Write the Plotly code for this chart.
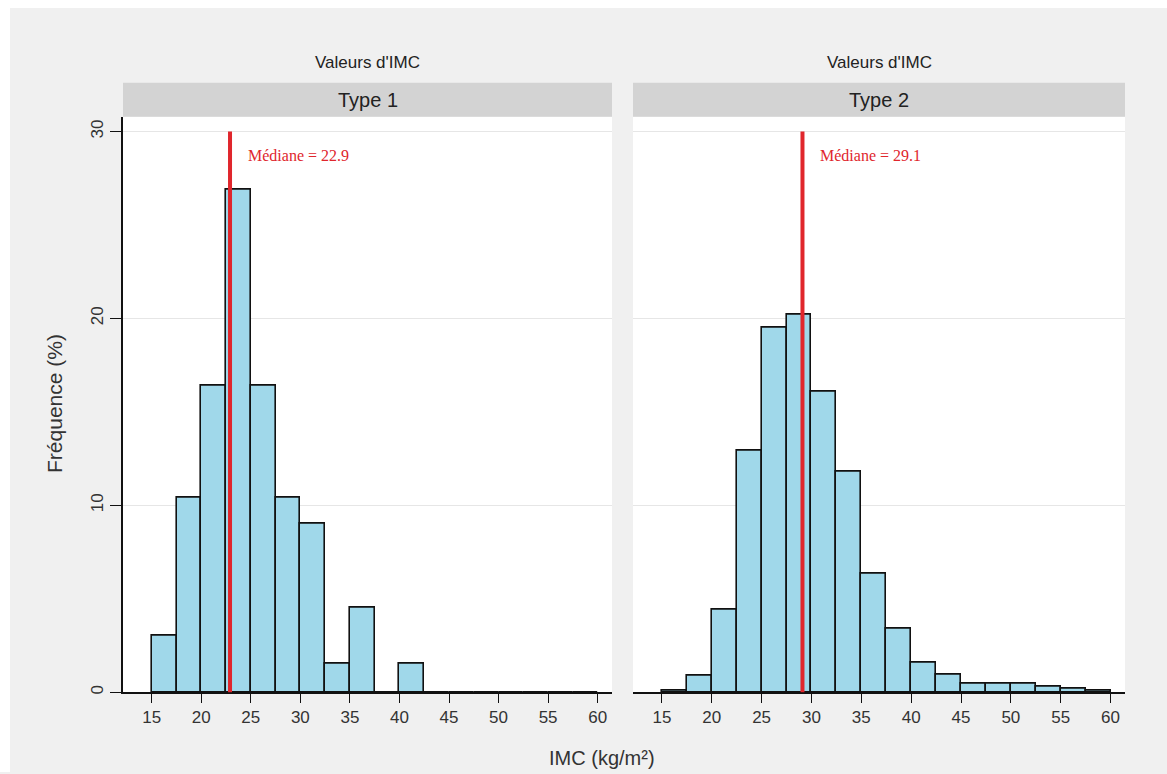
import plotly.graph_objects as go

# ---- data ----
bin_width = 2.5
bin_starts = [15 + 2.5 * i for i in range(18)]  # 15, 17.5, ..., 57.5
type1_freq = [3.0, 10.4, 16.4, 26.9, 16.4, 10.4, 9.0, 1.5, 4.5, 0.0, 1.5,
              0, 0, 0, 0, 0, 0, 0]
type2_freq = [0.1, 0.87, 4.4, 12.9, 19.5, 20.2, 16.1, 11.8, 6.35, 3.4, 1.6,
              0.96, 0.45, 0.45, 0.45, 0.28, 0.18, 0.08]
medians = [22.9, 29.1]
panel_names = ["Type 1", "Type 2"]
super_title = "Valeurs d'IMC"
x_ticks = [15, 20, 25, 30, 35, 40, 45, 50, 55, 60]
y_ticks = [0, 10, 20, 30]

W, H = 1167, 774
def PX(p): return p / W
def PY(p): return 1 - p / H

bar_color = "#a0d8ea"
red = "#e0262c"
font_sans = "Liberation Sans, Arial, sans-serif"
font_serif = "Liberation Serif, Times New Roman, serif"

x_domains = [[PX(123), PX(612)], [PX(633), PX(1125)]]
y_domain = [PY(694), PY(117)]
x_range = [12.1, 61.45]
y_range = [0, 30.79]

fig = go.Figure()

for i, freq in enumerate([type1_freq, type2_freq]):
    xa = "x" if i == 0 else "x2"
    ya = "y" if i == 0 else "y2"
    fig.add_trace(go.Bar(
        x=bin_starts, y=freq, width=[bin_width] * len(bin_starts), offset=0,
        marker=dict(color=bar_color, line=dict(color="#111111", width=1.6)),
        xaxis=xa, yaxis=ya, showlegend=False, hoverinfo="x+y",
    ))

axis_common = dict(range=x_range, tickvals=x_ticks, ticks="outside", ticklen=9,
                   tickwidth=1.3, tickcolor="#111", showline=True, linecolor="#111",
                   linewidth=1.5, showgrid=False, zeroline=False,
                   tickfont=dict(family=font_sans, size=17, color="#333"))
fig.update_layout(
    xaxis=dict(domain=x_domains[0], anchor="y", **axis_common),
    xaxis2=dict(domain=x_domains[1], anchor="y2", **axis_common),
    yaxis=dict(domain=y_domain, range=y_range, tickvals=y_ticks, ticks="outside",
               ticklen=11, tickwidth=1.3, tickcolor="#111", showline=True,
               linecolor="#111", linewidth=1.5, showgrid=True, gridcolor="#e6e6e6",
               gridwidth=1, zeroline=False, tickangle=-90, anchor="x",
               tickfont=dict(family=font_sans, size=17, color="#333")),
    yaxis2=dict(domain=y_domain, range=y_range, tickvals=y_ticks, ticks="",
                showticklabels=False, showline=False, showgrid=True,
                gridcolor="#e6e6e6", gridwidth=1, zeroline=False, anchor="x2"),
    plot_bgcolor="white",
    paper_bgcolor="#f0f0f0",
    width=W, height=H,
    margin=dict(l=0, r=0, t=0, b=0),
    bargap=0,
)

shapes = [
    # white outer border (top and left)
    dict(type="rect", xref="paper", yref="paper", x0=0, x1=1, y0=PY(8), y1=1,
         fillcolor="white", line=dict(width=0), layer="below"),
    dict(type="rect", xref="paper", yref="paper", x0=0, x1=PX(10), y0=0, y1=1,
         fillcolor="white", line=dict(width=0), layer="below"),
]
annotations = []
for i in range(2):
    d = x_domains[i]
    xa = "x" if i == 0 else "x2"
    ya = "y" if i == 0 else "y2"
    # strip
    shapes.append(dict(type="rect", xref="paper", yref="paper", x0=d[0], x1=d[1],
                       y0=PY(117), y1=PY(83), fillcolor="#d3d3d3", line=dict(width=0)))
    annotations.append(dict(text=panel_names[i], xref="paper", yref="paper",
                            x=(d[0] + d[1]) / 2, y=PY(100), showarrow=False,
                            xanchor="center", yanchor="middle",
                            font=dict(family=font_sans, size=20, color="#222")))
    annotations.append(dict(text=super_title, xref="paper", yref="paper",
                            x=(d[0] + d[1]) / 2, y=PY(63), showarrow=False,
                            xanchor="center", yanchor="middle",
                            font=dict(family=font_sans, size=17, color="#222")))
    # median line
    shapes.append(dict(type="line", xref=xa, yref=ya, x0=medians[i], x1=medians[i],
                       y0=-0.6, y1=30, line=dict(color=red, width=4), layer="above"))
    annotations.append(dict(text=f"Médiane = {medians[i]}", xref=xa, yref=ya,
                            x=medians[i], y=28.7, xshift=16, showarrow=False,
                            xanchor="left", yanchor="middle",
                            font=dict(family=font_serif, size=16, color=red)))

annotations.append(dict(text="Fréquence (%)", xref="paper", yref="paper",
                        x=PX(55), y=PY(405), textangle=-90, showarrow=False,
                        xanchor="center", yanchor="middle",
                        font=dict(family=font_sans, size=21, color="#333")))
annotations.append(dict(text="IMC (kg/m²)", xref="paper", yref="paper",
                        x=PX(602), y=PY(760), showarrow=False,
                        xanchor="center", yanchor="middle",
                        font=dict(family=font_sans, size=20, color="#333")))

fig.update_layout(shapes=shapes, annotations=annotations)
fig.write_html("out.html", config={"displayModeBar": False},
               post_script="document.body.style.margin='0';"
                           "document.body.style.overflow='hidden';")
